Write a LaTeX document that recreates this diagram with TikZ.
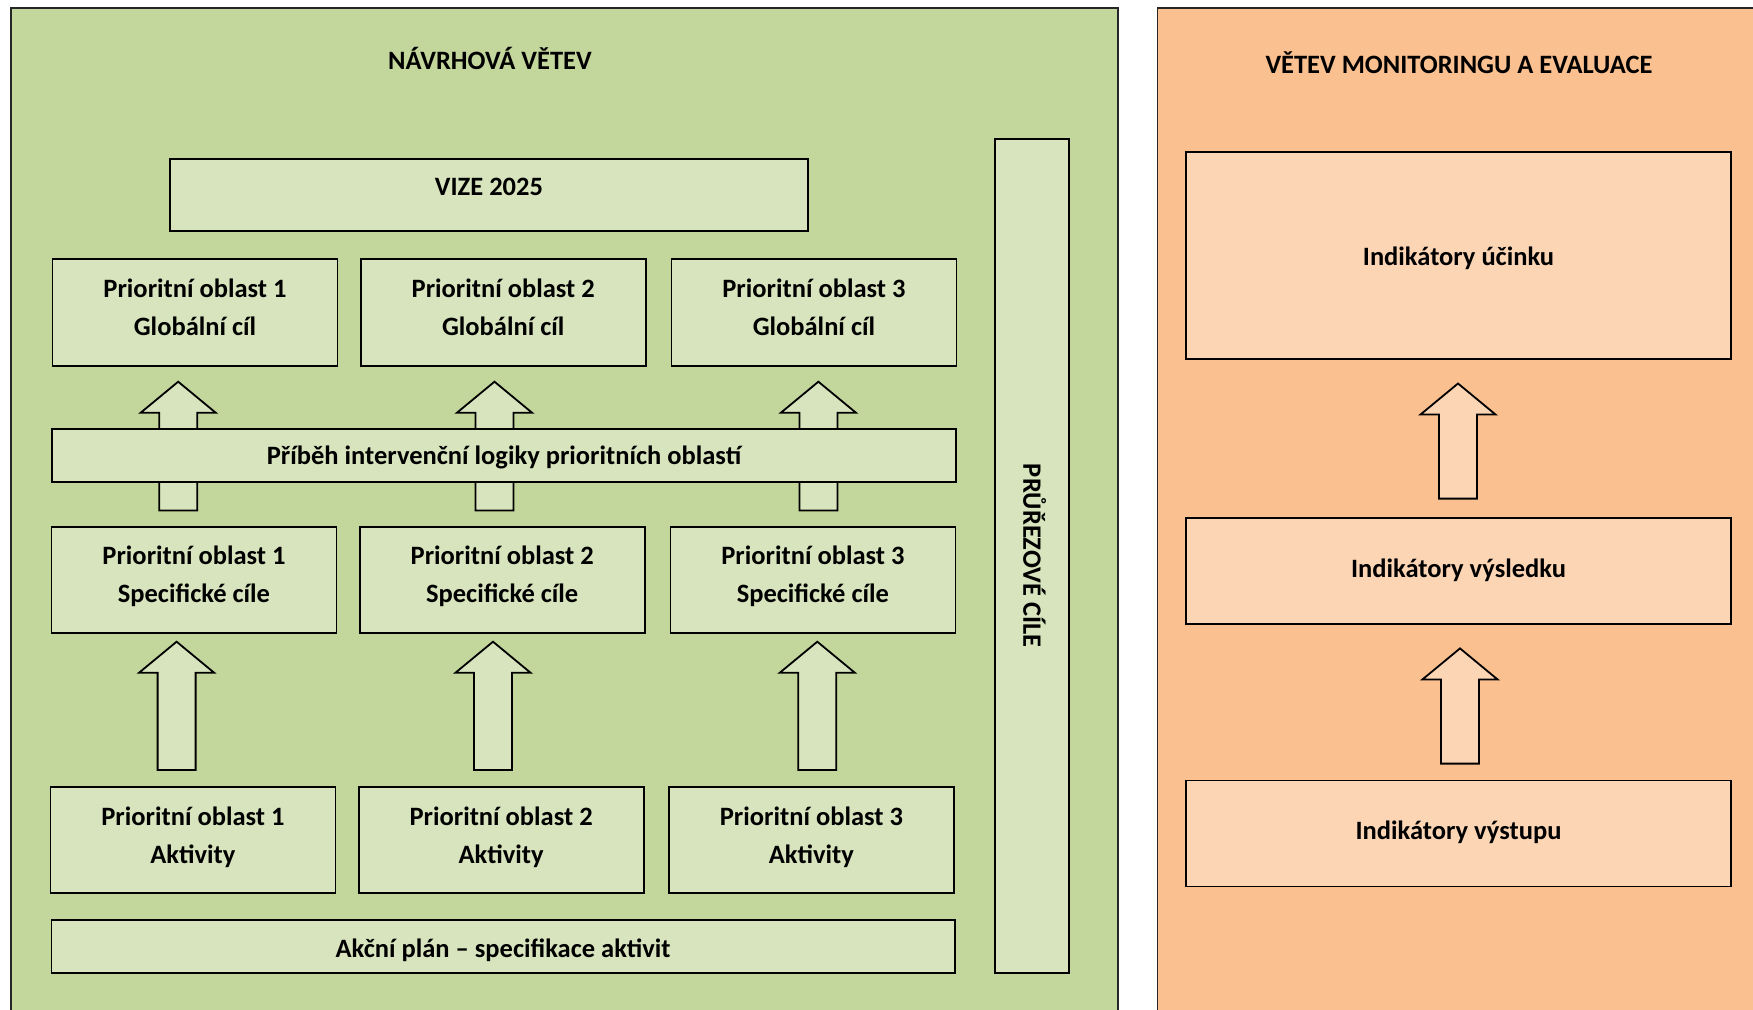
\documentclass[tikz,border=0pt]{standalone}
\usepackage{fontspec}
\setmainfont{Carlito}
\usepackage{tikz}
\usetikzlibrary{positioning}

\definecolor{grnpanel}{HTML}{C3D69B}
\definecolor{grnbox}{HTML}{D7E4BD}
\definecolor{orgpanel}{HTML}{FAC090}
\definecolor{orgbox}{HTML}{FCD5B5}

% invisible strut: height, depth (puts the text where Word has it)
\newcommand{\boxstrut}[2]{\rule[-#2]{0pt}{\dimexpr#1+#2\relax}}
% two lines of a priority box
\newcommand{\prioline}[2]{\boxstrut{38pt}{0pt}#1\\#2\boxstrut{0pt}{30pt}}

% block arrow pointing up: centre x, tip y, bottom y, fill
\newcommand{\blockup}[4]{%
  \draw[blk,fill=#4] (#1-19,#3) -- (#1-19,#2+31) -- (#1-37.5,#2+31) -- (#1,#2)
    -- (#1+37.5,#2+31) -- (#1+19,#2+31) -- (#1+19,#3) -- cycle;}

\begin{document}
\begin{tikzpicture}[
    x=1pt, y=-1pt,
    blk/.style={draw=black, line width=1.8pt, line join=miter},
    box/.style={
        draw=black,
        line width=1.8pt,
        inner sep=0pt,
        align=center,
        font=\bfseries\fontsize{26.5pt}{38pt}\selectfont
    },
    gbox/.style={box, fill=grnbox},
    obox/.style={box, fill=orgbox},
    prio/.style={gbox, minimum width=285pt, minimum height=106pt},
    title/.style={inner sep=0pt, anchor=base, font=\bfseries\fontsize{26.5pt}{38pt}\selectfont},
    panel/.style={draw=black!85, line width=1.6pt}
]
  \useasboundingbox (0,0) rectangle (1753,1009);
  \fill[white] (0,0) rectangle (1753,1009);

  % panels
  \draw[panel, fill=grnpanel] (11,8) rectangle (1118,1030);
  \draw[panel, fill=orgpanel] (1157.5,8) rectangle (1780,1030);

  \node[title] (navrh) at (490,69.3) {NÁVRHOVÁ VĚTEV};
  \node[title] (monit) at (1459,73.3) {VĚTEV MONITORINGU A EVALUACE};

  % navrhova vetev
  \node[gbox, minimum width=638pt, minimum height=72pt] (vize) at (489,195)
    {\boxstrut{36.7pt}{35.3pt}VIZE 2025};

  \node[prio, minimum height=107pt] (glob1) at (195,312.5) {\prioline{Prioritní oblast 1}{Globální cíl}};
  \node[prio, minimum height=107pt, right=21.4pt of glob1] (glob2) {\prioline{Prioritní oblast 2}{Globální cíl}};
  \node[prio, minimum height=107pt, right=23.9pt of glob2] (glob3) {\prioline{Prioritní oblast 3}{Globální cíl}};

  \blockup{178.2}{381.7}{510.5}{grnbox}
  \blockup{494.5}{381.7}{510.5}{grnbox}
  \blockup{818.4}{381.7}{510.5}{grnbox}

  \node[gbox, minimum width=903.5pt, minimum height=53pt] (pribeh) at (504,455.3)
    {\boxstrut{36pt}{17pt}Příběh intervenční logiky prioritních oblastí};

  \node[prio] (spec1) at (194,579.7) {\prioline{Prioritní oblast 1}{Specifické cíle}};
  \node[prio, right=21.4pt of spec1] (spec2) {\prioline{Prioritní oblast 2}{Specifické cíle}};
  \node[prio, right=23.9pt of spec2] (spec3) {\prioline{Prioritní oblast 3}{Specifické cíle}};

  \blockup{176.6}{641.7}{770}{grnbox}
  \blockup{493}{641.7}{770}{grnbox}
  \blockup{817.3}{641.7}{770}{grnbox}

  \node[prio] (akt1) at (192.9,840) {\prioline{Prioritní oblast 1}{Aktivity}};
  \node[prio, right=21.4pt of akt1] (akt2) {\prioline{Prioritní oblast 2}{Aktivity}};
  \node[prio, right=23.5pt of akt2] (akt3) {\prioline{Prioritní oblast 3}{Aktivity}};

  \node[gbox, minimum width=903.4pt, minimum height=53pt] (akcni) at (503.1,946.5)
    {\boxstrut{37pt}{16pt}Akční plán -- specifikace aktivit};

  \node[gbox, rotate=-90, minimum width=834pt, minimum height=74pt] (pruz) at (1032,555.7)
    {\boxstrut{45.7pt}{28.3pt}PRŮŘEZOVÉ CÍLE};

  % vetev monitoringu
  \node[obox, minimum width=545pt, minimum height=207pt] (ucinek) at (1458.5,255.5)
    {\boxstrut{113pt}{94pt}Indikátory účinku};
  \blockup{1458}{383.5}{498.6}{orgbox}
  \node[obox, minimum width=545pt, minimum height=106pt] (vysl) at (1458.5,570.7)
    {\boxstrut{60pt}{46pt}Indikátory výsledku};
  \blockup{1460}{648.4}{763.6}{orgbox}
  \node[obox, minimum width=545pt, minimum height=106pt] (vystup) at (1458.5,833.5)
    {\boxstrut{59pt}{47pt}Indikátory výstupu};
\end{tikzpicture}
\end{document}
